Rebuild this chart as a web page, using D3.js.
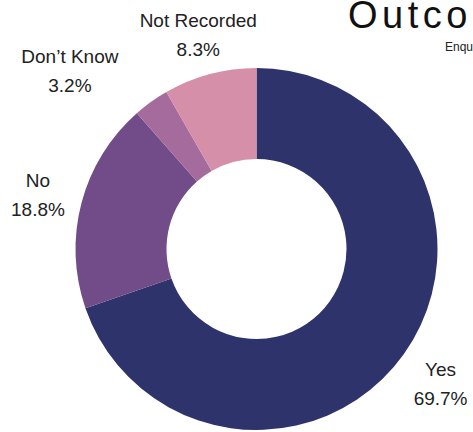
<!DOCTYPE html>
<html>
<head>
<meta charset="utf-8">
<script src="https://cdn.jsdelivr.net/npm/d3@7"></script>
<style>
  html, body { margin: 0; padding: 0; background: #fff; }
  svg { display: block; }
  text { font-family: "Liberation Sans", Arial, sans-serif; }
</style>
</head>
<body>
<svg id="chart" width="473" height="432"></svg>
<script>
// Outcome shares, clockwise from 12 o'clock
const categories = ["Yes", "No", "Don\u2019t Know", "Not Recorded"];
const shares = [69.7, 18.8, 3.2, 8.3];
const colors = ["#2f336c", "#714c88", "#a56b9c", "#d68fa9"];
const titleText = "Outcome of Enquiries";
const subtitleText = "Enquiries";

const width = 473, height = 432;
const cx = 256.5, cy = 249;
const outerR = 181, innerR = 90;
const labelR = 226;
const fontSize = 19, lineGap = 29;

const svg = d3.select("#chart");

const data = categories.map((c, i) => ({ name: c, value: shares[i], color: colors[i] }));

const pie = d3.pie().sort(null).value(d => d.value);
const arc = d3.arc().innerRadius(innerR).outerRadius(outerR);
const arcs = pie(data);

const g = svg.append("g").attr("transform", `translate(${cx},${cy})`);

g.selectAll("path.slice")
  .data(arcs)
  .join("path")
  .attr("class", "slice")
  .attr("d", arc)
  .attr("fill", d => d.data.color);

// Small slices crowd each other on the upper left; push that label out and round a little
const nudge = { "Don\u2019t Know": { da: -10 * Math.PI / 180, dr: 35 } };

const labels = g.selectAll("g.label")
  .data(arcs)
  .join("g")
  .attr("class", "label")
  .attr("transform", d => {
    const n = nudge[d.data.name] || { da: 0, dr: 0 };
    const a = (d.startAngle + d.endAngle) / 2 + n.da;
    const r = labelR + n.dr;
    return `translate(${r * Math.sin(a)},${-r * Math.cos(a)})`;
  });

labels.append("text")
  .attr("text-anchor", "middle")
  .attr("y", -4)
  .attr("font-size", fontSize)
  .attr("fill", "#222")
  .text(d => d.data.name);

labels.append("text")
  .attr("text-anchor", "middle")
  .attr("y", -4 + lineGap)
  .attr("font-size", fontSize)
  .attr("fill", "#222")
  .text(d => d3.format(".1f")(d.data.value) + "%");

// Title block, running off the right edge
svg.append("text")
  .attr("x", 348)
  .attr("y", 28)
  .attr("font-size", 38)
  .attr("letter-spacing", 4.5)
  .attr("fill", "#111")
  .text(titleText);

svg.append("text")
  .attr("x", 445)
  .attr("y", 51)
  .attr("font-size", 12)
  .attr("fill", "#222")
  .text(subtitleText);
</script>
</body>
</html>
